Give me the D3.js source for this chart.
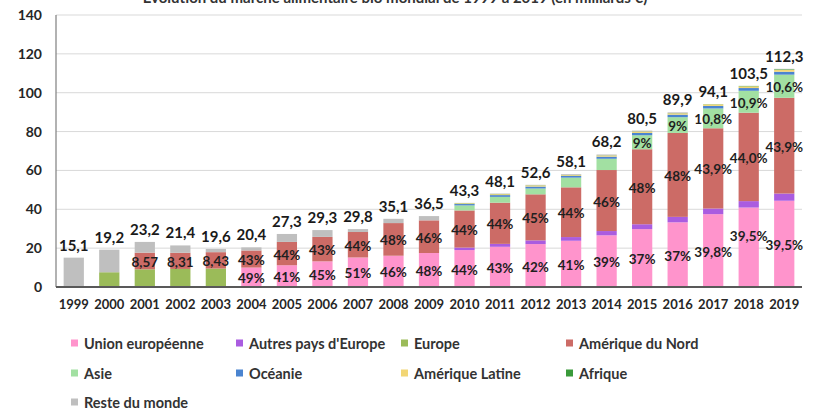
<!DOCTYPE html>
<html>
<head>
<meta charset="utf-8">
<script src="https://cdn.jsdelivr.net/npm/d3@7"></script>
<style>
    body { margin: 0; background: #fff; }
    svg { display: block; font-family: Lato, "Open Sans", sans-serif; }
</style>
</head>
<body>
<svg id="chart" width="814" height="409"></svg>
<script>
const years = ["1999", "2000", "2001", "2002", "2003", "2004", "2005", "2006", "2007", "2008", "2009",
    "2010", "2011", "2012", "2013", "2014", "2015", "2016", "2017", "2018", "2019"];

const totals = [15.1, 19.2, 23.2, 21.4, 19.6, 20.4, 27.3, 29.3, 29.8, 35.1, 36.5,
    43.3, 48.1, 52.6, 58.1, 68.2, 80.5, 89.9, 94.1, 103.5, 112.3];

// milliards € par zone
const unionEuropeenne = [0, 0, 0, 0, 0, 10.0, 11.2, 13.2, 15.2, 16.1, 17.5, 19.0, 20.7, 22.1, 23.8, 26.6, 29.8, 33.3, 37.5, 40.9, 44.4];
const autresEurope = [0, 0, 0, 0, 0, 0, 0, 0, 0, 0, 0, 1.3, 1.5, 1.9, 1.9, 2.2, 2.5, 2.8, 2.9, 3.3, 3.7];
const europe = [0, 7.6, 9.1, 9.3, 9.5, 0, 0, 0, 0, 0, 0, 0, 0, 0, 0, 0, 0, 0, 0, 0, 0];
const ameriqueNord = [0, 0, 8.57, 8.31, 8.43, 8.8, 12.0, 12.6, 13.1, 16.8, 16.8, 19.1, 21.2, 23.7, 25.6, 31.4, 38.6, 43.2, 41.3, 45.5, 49.3];
const asie = [0, 0, 0, 0, 0, 0, 0, 0, 0, 0, 0, 2.6, 3.0, 3.0, 5.0, 5.8, 7.2, 8.1, 10.2, 11.3, 11.9];
const oceanie = [0, 0, 0, 0, 0, 0, 0, 0, 0, 0, 0, 0.7, 0.9, 1.0, 0.9, 1.1, 1.2, 1.3, 1.3, 1.4, 1.5];
const ameriqueLatine = [0, 0, 0, 0, 0, 0, 0, 0, 0, 0, 0, 0.4, 0.5, 0.6, 0.4, 0.6, 0.7, 0.7, 0.8, 0.9, 1.0];
const afrique = [0, 0, 0, 0, 0, 0, 0, 0, 0, 0, 0, 0.1, 0.1, 0.1, 0.1, 0.1, 0.1, 0.1, 0.1, 0.2, 0.3];
const resteMonde = [15.1, 11.6, 5.53, 3.79, 1.67, 1.6, 4.1, 3.5, 1.5, 2.2, 2.2, 0.1, 0.2, 0.2, 0.4, 0.4, 0.4, 0.4, 0.0, 0.0, 0.2];

const labelsUE = ["", "", "", "", "", "49%", "41%", "45%", "51%", "46%", "48%", "44%", "43%", "42%", "41%", "39%", "37%", "37%", "39,8%", "39,5%", "39,5%"];
const labelsAN = ["", "", "8,57", "8,31", "8,43", "43%", "44%", "43%", "44%", "48%", "46%", "44%", "44%", "45%", "44%", "46%", "48%", "48%", "43,9%", "44,0%", "43,9%"];
const labelsAsie = ["", "", "", "", "", "", "", "", "", "", "", "", "", "", "", "", "9%", "9%", "10,8%", "10,9%", "10,6%"];

const series = [
    { key: "ue", name: "Union européenne", values: unionEuropeenne, color: "#ff94cc", labels: labelsUE },
    { key: "autres", name: "Autres pays d'Europe", values: autresEurope, color: "#aa5ce0" },
    { key: "europe", name: "Europe", values: europe, color: "#9bbb59" },
    { key: "an", name: "Amérique du Nord", values: ameriqueNord, color: "#cc6b66", labels: labelsAN },
    { key: "asie", name: "Asie", values: asie, color: "#a2e0a2", labels: labelsAsie },
    { key: "oceanie", name: "Océanie", values: oceanie, color: "#4a84d0" },
    { key: "latine", name: "Amérique Latine", values: ameriqueLatine, color: "#f2d675" },
    { key: "afrique", name: "Afrique", values: afrique, color: "#3a9a3a" },
    { key: "reste", name: "Reste du monde", values: resteMonde, color: "#bfbfbf" }
];

const renderChart = () => {
    const svg = d3.select("#chart");
    const left = 56, right = 802, top = 15, bottom = 287;

    const table = years.map((year, i) => {
        const row = { year: year };
        series.forEach(s => row[s.key] = s.values[i]);
        return row;
    });

    const x = d3.scaleBand()
        .domain(years)
        .range([left, right])
        .paddingInner(0.43)
        .paddingOuter(0.215);

    const y = d3.scaleLinear()
        .domain([0, 140])
        .range([bottom, top]);

    // titre (coupé en haut dans l'original)
    svg.append("text")
        .attr("x", 395)
        .attr("y", 3)
        .attr("text-anchor", "middle")
        .style("font-size", "15px")
        .style("font-weight", "bold")
        .attr("fill", "#333")
        .text("Évolution du marché alimentaire bio mondial de 1999 à 2019 (en milliards €)");

    // grille
    svg.append("g")
        .selectAll("line")
        .data(y.ticks(7).filter(d => d > 0))
        .enter()
        .append("line")
        .attr("x1", left)
        .attr("x2", right)
        .attr("y1", d => y(d))
        .attr("y2", d => y(d))
        .attr("stroke", "#d9d9d9")
        .attr("stroke-width", 1);

    const yAxis = svg.append("g")
        .attr("transform", `translate(${left},0)`)
        .call(d3.axisLeft(y).ticks(7).tickSize(0).tickPadding(14));
    yAxis.select(".domain").remove();
    yAxis.selectAll("text")
        .style("font-size", "14px")
        .style("font-weight", "bold")
        .style("font-family", "Lato, sans-serif")
        .attr("fill", "#262626");

    const stacked = d3.stack().keys(series.map(s => s.key))(table);

    svg.append("g")
        .selectAll("g")
        .data(stacked)
        .enter()
        .append("g")
        .attr("fill", (d, i) => series[i].color)
        .selectAll("rect")
        .data(d => d)
        .enter()
        .append("rect")
        .attr("x", d => x(d.data.year))
        .attr("width", x.bandwidth())
        .attr("y", d => y(d[1]))
        .attr("height", d => y(d[0]) - y(d[1]));

    // axes
    svg.append("line")
        .attr("x1", left).attr("x2", left)
        .attr("y1", top).attr("y2", bottom)
        .attr("stroke", "#7f7f7f")
        .attr("stroke-width", 1.2);

    const xAxis = svg.append("g")
        .attr("transform", `translate(0,${bottom})`)
        .call(d3.axisBottom(x).tickSize(0).tickPadding(13));
    xAxis.select(".domain")
        .attr("stroke", "#595959")
        .attr("stroke-width", 2)
        .attr("d", `M${left},0H${right}`);
    xAxis.selectAll("text")
        .style("font-size", "13px")
        .style("font-weight", "bold")
        .style("font-family", "Lato, sans-serif")
        .attr("fill", "#262626");

    // étiquettes des segments
    const nudge = { "ue-2018": -12 };
    stacked.forEach((layer, i) => {
        const labels = series[i].labels;
        if (!labels) return;
        svg.append("g")
            .selectAll("text")
            .data(layer.filter((d, j) => labels[j] !== ""))
            .enter()
            .append("text")
            .attr("x", d => x(d.data.year) + x.bandwidth() / 2)
            .attr("y", d => (y(d[0]) + y(d[1])) / 2 + 1 + (nudge[series[i].key + "-" + d.data.year] || 0))
            .attr("text-anchor", "middle")
            .attr("dominant-baseline", "central")
            .style("font-size", "13.5px")
            .style("font-weight", "bold")
            .attr("fill", "#1f1f1f")
            .text(d => labels[years.indexOf(d.data.year)]);
    });

    // totaux
    svg.append("g")
        .selectAll("text")
        .data(years)
        .enter()
        .append("text")
        .attr("x", d => x(d) + x.bandwidth() / 2)
        .attr("y", (d, i) => y(totals[i]) - 7)
        .attr("text-anchor", "middle")
        .style("font-size", "15px")
        .style("font-weight", "bold")
        .attr("fill", "#1a1a1a")
        .text((d, i) => String(totals[i]).replace(".", ","));

    // légende
    const colX = [71, 236, 401, 566];
    const rowY = [343, 373, 402];
    const legend = svg.append("g")
        .selectAll("g")
        .data(series)
        .enter()
        .append("g")
        .attr("transform", (d, i) => `translate(${colX[i % 4]},${rowY[Math.floor(i / 4)]})`);
    legend.append("rect")
        .attr("x", 0)
        .attr("y", -3.5)
        .attr("width", 7)
        .attr("height", 7)
        .attr("fill", d => d.color);
    legend.append("text")
        .attr("x", 13)
        .attr("y", 0)
        .attr("dominant-baseline", "central")
        .style("font-size", "14.5px")
        .style("font-weight", "bold")
        .attr("fill", "#333")
        .text(d => d.name);
}

window.onload = renderChart;
</script>
</body>
</html>
